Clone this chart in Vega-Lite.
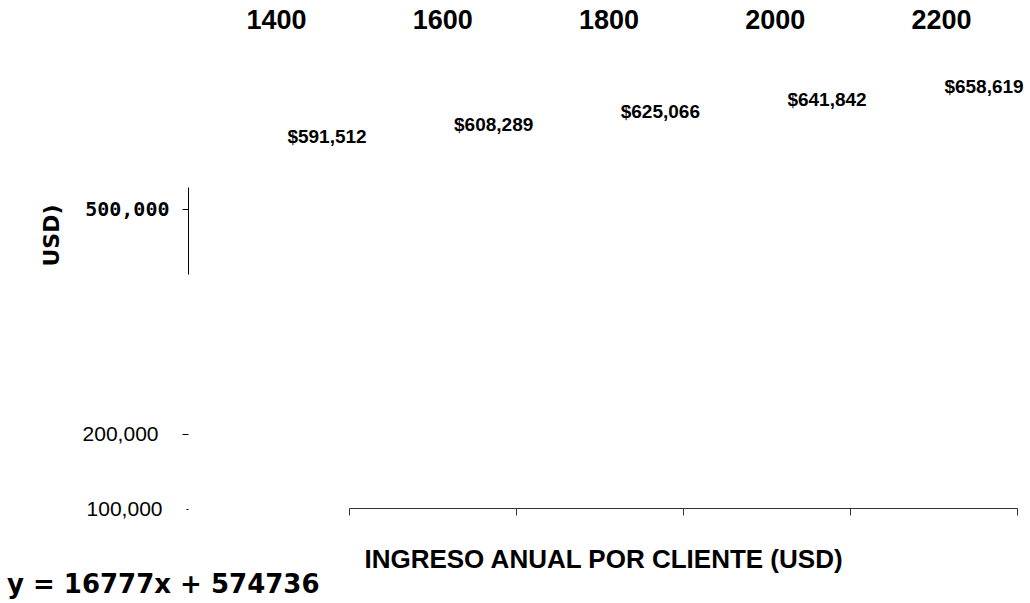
{
  "$schema": "https://vega.github.io/schema/vega-lite/v6.json",
  "autosize": {"type": "none"},
  "padding": {"left": 188, "top": 45, "right": 0, "bottom": 95},
  "width": 842,
  "height": 463,
  "background": "white",
  "config": {"view": {"stroke": null}, "axis": {"grid": false}},
  "title": {"text": "y = 16777x + 574736", "orient": "bottom", "anchor": "start", "frame": "group", "dx": -181, "offset": 0, "font": "DejaVu Sans", "fontSize": 26, "fontWeight": "bold", "color": "#000"},
  "data": {"values": [
    {"x": 1400, "y": 591512},
    {"x": 1600, "y": 608289},
    {"x": 1800, "y": 625066},
    {"x": 2000, "y": 641842},
    {"x": 2200, "y": 658619}
  ]},
  "layer": [
    {
      "mark": {"type": "text", "font": "Liberation Sans", "fontSize": 19, "fontWeight": "bold", "baseline": "middle", "dy": -3, "color": "#000"},
      "encoding": {
        "x": {"field": "x", "type": "quantitative", "scale": {"domain": [1400, 2000, 2200], "range": [139, 639, 796], "nice": false, "zero": false}, "axis": null},
        "y": {
          "field": "y", "type": "quantitative",
          "scale": {"domain": [0, 600000], "range": [539, 89], "nice": false, "zero": false},
          "axis": {
            "orient": "left",
            "values": [100000, 200000, 500000],
            "format": ",d",
            "domain": false,
            "ticks": true, "tickColor": "#000", "tickWidth": 1,
            "tickSize": {"condition": {"test": "datum.value == 100000", "value": 2}, "value": 6},
            "labelFont": {"condition": {"test": "datum.value == 500000", "value": "DejaVu Sans Mono"}, "value": "Liberation Sans"},
            "labelFontSize": {"condition": {"test": "datum.value == 500000", "value": 20}, "value": 21},
            "labelFontWeight": {"condition": {"test": "datum.value == 500000", "value": "bold"}, "value": "normal"},
            "labelPadding": {"condition": {"test": "datum.value == 500000", "value": 13}, "value": 24},
            "labelColor": "#000",
            "labelBaseline": "middle",
            "labelFlush": false,
            "labelOverlap": false,
            "title": "USD)",
            "titleFont": "DejaVu Sans", "titleFontSize": 22, "titleFontWeight": "bold", "titleColor": "#000",
            "titleX": -137, "titleY": 190, "titleAngle": 270, "titleAlign": "center", "titleBaseline": "middle"
          }
        },
        "text": {"field": "y", "type": "quantitative", "format": "$,.0f"}
      }
    },
    {
      "mark": {"type": "point", "opacity": 0},
      "encoding": {
        "x": {"field": "x", "type": "quantitative", "scale": {"domain": [1400, 2200], "range": [88, 753], "nice": false, "zero": false},
          "axis": {"orient": "top", "values": [1400, 1600, 1800, 2000, 2200], "format": "d", "title": null, "domain": false, "ticks": false, "tickSize": 0,
            "labelFlush": false, "labelOverlap": false, "labelBound": false,
            "labelFont": "Liberation Sans", "labelFontSize": 27, "labelFontWeight": "bold", "labelColor": "#000", "labelPadding": 17, "labelBaseline": "alphabetic"}},
        "y": {"field": "y", "type": "quantitative", "scale": {"domain": [0, 600000], "range": [539, 89], "nice": false, "zero": false}, "axis": null}
      }
    },
    {
      "mark": {"type": "point", "opacity": 0},
      "encoding": {
        "x": {"field": "x", "type": "quantitative", "scale": {"domain": [1400, 2200], "range": [161, 829], "nice": false, "zero": false},
          "axis": {"orient": "bottom", "values": [1400, 1600, 1800, 2000, 2200], "labels": false, "domain": true, "domainColor": "#333", "domainWidth": 1, "tickColor": "#333", "tickSize": 7, "tickWidth": 1,
            "title": "INGRESO ANUAL POR CLIENTE (USD)", "titleFont": "Liberation Sans", "titleFontSize": 26, "titleFontWeight": "bold", "titleColor": "#000",
            "titleX": 415, "titleY": 59, "titleAlign": "center", "titleBaseline": "alphabetic"}},
        "y": {"field": "y", "type": "quantitative", "scale": {"domain": [0, 600000], "range": [539, 89], "nice": false, "zero": false}, "axis": null}
      }
    },
    {
      "mark": {"type": "point", "opacity": 0},
      "encoding": {
        "y": {"field": "y", "type": "quantitative", "scale": {"domain": [413333, 529333], "range": [229, 142], "nice": false, "zero": false},
          "axis": {"orient": "left", "domain": true, "domainColor": "#000", "domainWidth": 1, "ticks": false, "labels": false, "title": null, "grid": false}}
      }
    }
  ],
  "resolve": {"scale": {"x": "independent", "y": "independent"}, "axis": {"x": "independent", "y": "independent"}}
}
